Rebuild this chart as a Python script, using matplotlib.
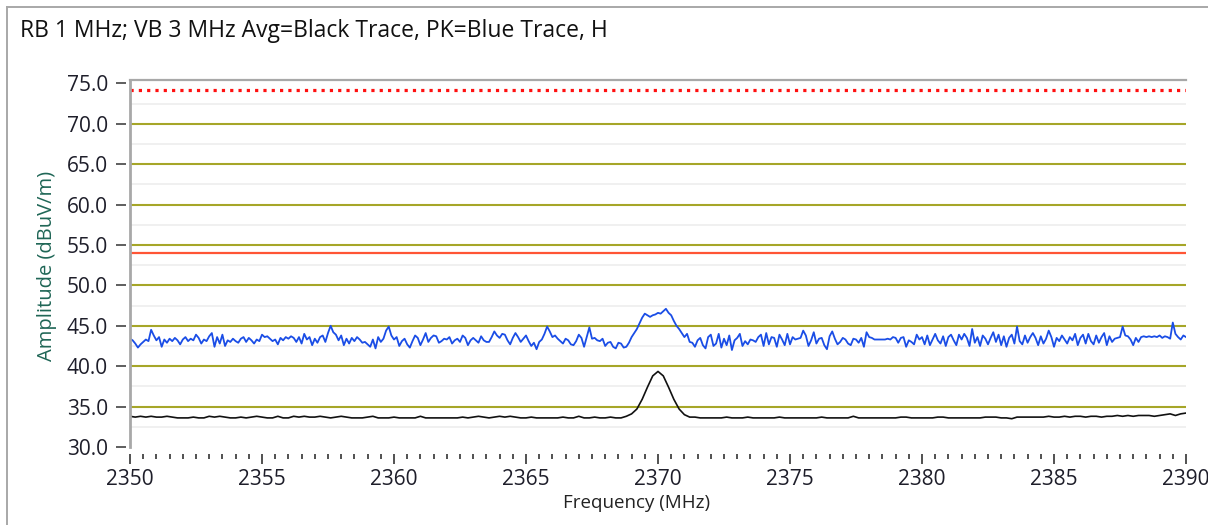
import numpy as np
import matplotlib
matplotlib.use("Agg")
import matplotlib.pyplot as plt

plt.rcParams["font.family"] = ["Open Sans", "DejaVu Sans"]

TITLE = "RB 1 MHz; VB 3 MHz Avg=Black Trace, PK=Blue Trace, H"

freq_start = 2350.0
peak_step = 0.1   # blue trace sample spacing, MHz
avg_step = 0.2    # black trace sample spacing, MHz

# peak trace (blue), dBuV/m, one row per MHz
peak_trace = [
    43.4, 43.2, 42.8, 42.3, 42.7, 43.0, 43.3, 43.1, 44.5, 43.8,
    43.2, 43.6, 42.4, 43.3, 42.9, 43.4, 43.1, 43.5, 43.2, 42.7,
    43.3, 43.6, 43.1, 43.4, 43.2, 43.9, 43.5, 42.8, 43.3, 43.1,
    43.7, 44.1, 42.4, 43.6, 42.8, 43.9, 42.5, 43.2, 43.0, 43.4,
    43.1, 42.9, 43.4, 43.6, 43.0, 43.5, 43.2, 42.8, 43.3, 43.1,
    43.9, 43.6, 43.7, 43.4, 43.1, 43.3, 42.7, 43.5, 43.2, 43.6,
    43.4, 43.7, 43.5, 43.0, 43.6, 42.8, 44.0, 43.3, 43.6, 42.6,
    43.4, 42.9, 43.6, 43.8, 43.0, 44.1, 45.0, 44.2, 43.9, 43.2,
    43.8, 42.6, 43.4, 42.8, 43.5, 43.1, 43.6, 43.3, 42.9, 43.0,
    42.7, 42.4, 43.3, 42.2, 43.6, 43.0, 43.4, 44.4, 44.9, 43.8,
    43.3, 43.6, 42.5, 43.1, 43.4, 42.7, 42.3, 43.1, 43.8, 43.5,
    42.6, 43.3, 44.1, 43.0, 43.5, 43.8, 43.7, 42.9, 43.1, 43.4,
    43.3, 43.6, 42.8, 43.2, 43.4, 43.0, 43.8, 43.5, 42.6, 43.2,
    43.5, 43.2, 42.9, 43.7, 43.2, 43.0, 43.0, 43.6, 44.3, 43.8,
    43.5, 44.0, 43.9, 43.2, 42.7, 43.5, 44.1, 43.6, 43.0, 43.4,
    43.8, 43.1, 42.5, 42.9, 42.1, 43.0, 43.3, 44.0, 44.9, 44.3,
    43.6, 43.8, 43.4, 43.1, 42.8, 43.4, 43.2, 42.7, 42.6, 43.1,
    43.9, 43.5, 42.4, 43.6, 44.8, 43.4, 43.5, 43.2, 43.1, 43.4,
    42.5, 42.9, 43.0, 42.4, 42.2, 42.9, 42.8, 42.3, 42.4, 42.9,
    43.6, 44.1, 44.6, 45.3, 46.0, 46.5, 46.3, 46.1, 46.3, 46.4,
    46.6, 46.5, 46.8, 47.1, 46.6, 46.3, 45.6, 45.0, 44.6, 44.1,
    43.6, 44.0, 43.0, 42.9, 42.4, 43.2, 43.5, 42.6, 42.2, 43.6,
    43.9, 42.5, 42.8, 44.0, 42.3, 43.4, 42.6, 43.8, 42.0, 43.2,
    43.5, 44.0, 42.5, 43.1, 42.7, 43.3, 43.2, 43.0, 43.6, 43.9,
    42.5, 44.1, 42.7, 43.6, 43.5, 42.4, 43.9, 43.3, 42.6, 44.0,
    42.7, 43.6, 43.3, 43.4, 43.5, 44.4, 43.8, 42.5, 43.2, 44.2,
    42.8, 43.4, 43.5, 42.6, 42.1, 43.7, 44.3, 43.4, 42.7, 43.0,
    43.5, 43.3, 42.8, 42.6, 43.4, 43.3, 42.9, 43.5, 42.4, 44.2,
    43.6, 43.5, 43.3, 43.3, 43.3, 43.3, 43.3, 43.4, 43.3, 43.6,
    43.5, 42.9, 43.5, 43.6, 42.4, 43.2, 43.0, 42.7, 43.9, 43.3,
    43.6, 42.7, 43.8, 42.6, 43.3, 44.0, 43.2, 42.8, 43.7, 42.5,
    43.6, 43.9, 43.2, 42.6, 43.9, 43.3, 44.0, 43.5, 42.5, 44.6,
    42.9, 43.6, 42.5, 43.8, 43.4, 42.7, 43.5, 44.2, 43.0, 43.9,
    42.6, 43.7, 42.4, 43.5, 43.9, 42.8, 44.9, 43.1, 42.7, 43.8,
    42.9, 43.6, 44.1, 43.5, 42.6, 43.7, 42.8, 43.4, 44.4, 43.6,
    42.4, 43.5, 43.1, 43.8, 43.3, 42.8, 43.6, 43.2, 44.0, 42.6,
    43.5, 43.9, 42.8, 44.0, 43.1, 42.7, 43.8, 42.9, 43.6, 44.1,
    42.6, 43.7, 43.0, 43.4, 43.5, 43.6, 44.9, 43.8, 43.7, 43.3,
    42.6, 43.5, 43.0, 43.6, 43.7, 43.6, 43.7, 43.6, 43.7, 43.6,
    43.8, 43.5, 43.7, 43.6, 43.4, 45.4, 44.0, 43.6, 43.3, 43.8,
    43.6,
]

# average trace (black), dBuV/m, one row per 2 MHz
avg_trace = [
    33.8, 33.7, 33.8, 33.7, 33.8, 33.7, 33.7, 33.8, 33.7, 33.6,
    33.6, 33.6, 33.7, 33.6, 33.6, 33.8, 33.7, 33.8, 33.7, 33.6,
    33.6, 33.7, 33.6, 33.7, 33.8, 33.7, 33.6, 33.6, 33.8, 33.6,
    33.6, 33.8, 33.7, 33.8, 33.7, 33.7, 33.8, 33.7, 33.6, 33.7,
    33.8, 33.7, 33.6, 33.6, 33.6, 33.7, 33.8, 33.6, 33.6, 33.6,
    33.7, 33.6, 33.6, 33.6, 33.6, 33.8, 33.6, 33.6, 33.6, 33.6,
    33.6, 33.6, 33.6, 33.7, 33.6, 33.7, 33.8, 33.7, 33.6, 33.7,
    33.8, 33.7, 33.8, 33.7, 33.6, 33.6, 33.7, 33.6, 33.6, 33.6,
    33.6, 33.6, 33.7, 33.6, 33.6, 33.8, 33.6, 33.6, 33.7, 33.6,
    33.6, 33.7, 33.6, 33.6, 33.8, 34.1, 34.7, 35.9, 37.4, 38.8,
    39.35, 38.8, 37.4, 35.9, 34.7, 34.0, 33.7, 33.7, 33.6, 33.6,
    33.6, 33.6, 33.6, 33.7, 33.6, 33.6, 33.6, 33.7, 33.6, 33.6,
    33.6, 33.6, 33.6, 33.7, 33.6, 33.6, 33.6, 33.6, 33.6, 33.6,
    33.6, 33.7, 33.6, 33.6, 33.6, 33.6, 33.6, 33.8, 33.6, 33.6,
    33.6, 33.6, 33.6, 33.6, 33.6, 33.6, 33.7, 33.7, 33.6, 33.6,
    33.6, 33.6, 33.6, 33.7, 33.7, 33.6, 33.6, 33.6, 33.6, 33.6,
    33.6, 33.6, 33.7, 33.7, 33.7, 33.6, 33.6, 33.5, 33.7, 33.7,
    33.7, 33.7, 33.7, 33.7, 33.8, 33.7, 33.7, 33.8, 33.7, 33.8,
    33.8, 33.7, 33.8, 33.8, 33.7, 33.8, 33.8, 33.9, 33.8, 33.9,
    33.8, 33.9, 33.9, 33.9, 33.8, 33.9, 34.0, 34.1, 33.9, 34.1,
    34.2,
]

# limit lines
peak_limit = 74.2
avg_limit = 54.0

y_ticks = [30, 35, 40, 45, 50, 55, 60, 65, 70, 75]
x_ticks = [2350, 2355, 2360, 2365, 2370, 2375, 2380, 2385, 2390]

GRID_OLIVE = "#a6a628"
FRAME_GRAY = "#a8a8a8"
TEXT_DARK = "#1e1e2a"


def main():
    peak_freqs = freq_start + peak_step * np.arange(len(peak_trace))
    avg_freqs = freq_start + avg_step * np.arange(len(avg_trace))

    fig = plt.figure(figsize=(12.08, 5.25), dpi=100)
    ax = fig.add_axes([130 / 1208, 1 - 447 / 525, 1056 / 1208, 367 / 525])

    # light minor grid and olive major grid
    for v in np.arange(32.5, 75, 5.0):
        ax.axhline(v, color="#eeeeee", lw=1.2, zorder=1)
    for v in y_ticks[1:-1]:
        ax.axhline(v, color=GRID_OLIVE, lw=1.5, zorder=2)

    ax.axhline(peak_limit, color="#ff1010", lw=2.3, ls=(0, (1, 1.6)),
               dash_capstyle="butt", zorder=3)
    ax.axhline(avg_limit, color="#ff5535", lw=1.6, zorder=3)

    ax.plot(peak_freqs, peak_trace, color="#1a4de6", lw=1.3, zorder=4)
    ax.plot(avg_freqs, avg_trace, color="#111111", lw=1.2, zorder=4)

    ax.set_xlim(2350, 2390)
    ax.set_ylim(30, 75.41)

    # frame: gray left and top only
    ax.axvline(2350, color=FRAME_GRAY, lw=2.0, zorder=5, clip_on=False)
    ax.spines["top"].set_color(FRAME_GRAY)
    ax.spines["top"].set_linewidth(1.6)
    ax.spines["right"].set_visible(False)
    ax.spines["left"].set_color("none")
    ax.spines["left"].set_position(("outward", 3))
    ax.spines["bottom"].set_color("none")
    ax.spines["bottom"].set_position(("outward", 5))

    ax.set_yticks(y_ticks)
    ax.set_yticklabels([f"{v:.1f}" for v in y_ticks])
    ax.set_xticks(x_ticks)
    ax.set_xticks(np.arange(2350, 2390.01, 0.5), minor=True)
    ax.tick_params(axis="y", direction="out", length=7.5, width=1.1,
                   color="#333333", labelsize=15, labelcolor=TEXT_DARK, pad=5.5)
    ax.tick_params(axis="x", which="major", direction="out", length=7.5,
                   width=1.1, color="#222222", labelsize=15,
                   labelcolor=TEXT_DARK, pad=3)
    ax.tick_params(axis="x", which="minor", direction="out", length=3.8,
                   width=1.1, color="#222222")

    fig.text(20 / 1208, 1 - 31 / 525, TITLE, fontsize=16.5, color="#111111",
             ha="left", va="center")
    fig.text(637 / 1208, 1 - 503 / 525, "Frequency (MHz)", fontsize=13.5,
             color="#222222", ha="center", va="center")
    fig.text(47 / 1208, 1 - 266 / 525, "Amplitude (dBuV/m)", fontsize=14.5,
             color="#1f6656", ha="center", va="center", rotation=90)

    # outer panel border (left and top edges visible)
    fig.add_artist(plt.Line2D([7 / 1208, 7 / 1208], [0, 1 - 7 / 525],
                              color=FRAME_GRAY, lw=1.4))
    fig.add_artist(plt.Line2D([7 / 1208, 1], [1 - 7 / 525, 1 - 7 / 525],
                              color=FRAME_GRAY, lw=1.4))

    fig.savefig("out.png", dpi=100)
    plt.close(fig)


if __name__ == "__main__":
    main()
